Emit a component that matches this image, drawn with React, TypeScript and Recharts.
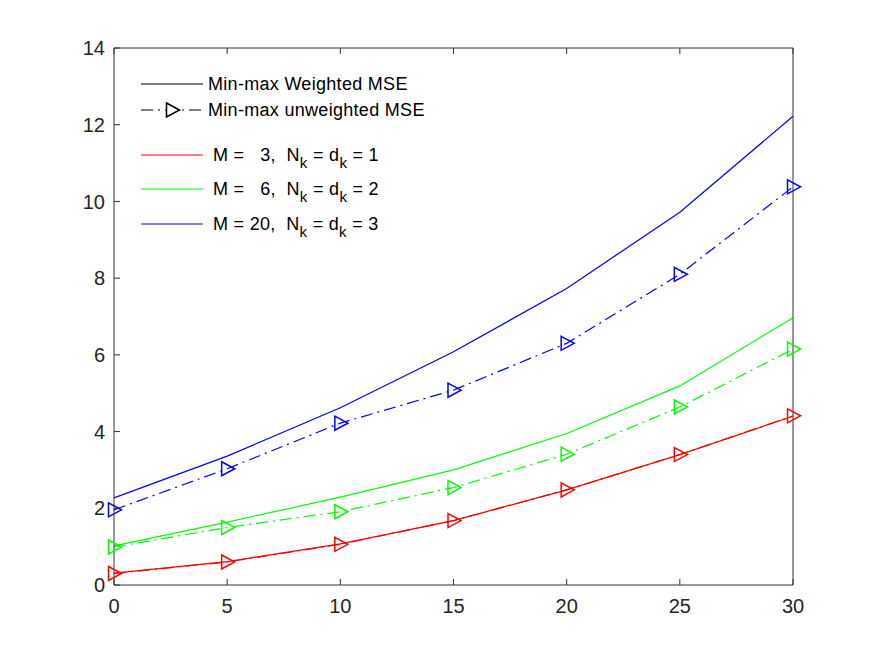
import React from 'react';
import { LineChart, Line, XAxis, YAxis } from 'recharts';

// Horizontal axis values
const xValues = [0, 5, 10, 15, 20, 25, 30];

// Min-max weighted MSE (solid lines)
const redWeighted = [0.31, 0.61, 1.07, 1.68, 2.48, 3.4, 4.4];
const greenWeighted = [1.02, 1.64, 2.29, 3.0, 3.95, 5.19, 6.97];
const blueWeighted = [2.27, 3.36, 4.62, 6.08, 7.73, 9.72, 12.22];

// Min-max unweighted MSE (dash-dot lines with triangle markers)
const redUnweighted = [0.3, 0.6, 1.06, 1.68, 2.48, 3.4, 4.41];
const greenUnweighted = [0.99, 1.5, 1.91, 2.54, 3.41, 4.64, 6.15];
const blueUnweighted = [1.96, 3.03, 4.22, 5.08, 6.3, 8.1, 10.38];

const xTicks = [0, 5, 10, 15, 20, 25, 30];
const yTicks = [0, 2, 4, 6, 8, 10, 12, 14];

const RED = '#ff0000';
const GREEN = '#00ff00';
const BLUE = '#0000ff';
const AXIS = '#333333';
const DASH_DOT = '12 5 2 5';
const FONT = '"Liberation Sans", Arial, Helvetica, sans-serif';

// Legend config
const styleRows = [
  { label: 'Min-max Weighted MSE', dashed: false },
  { label: 'Min-max unweighted MSE', dashed: true },
];
const caseRows = [
  { m: '  3', n: '1', color: RED },
  { m: '  6', n: '2', color: GREEN },
  { m: '20', n: '3', color: BLUE },
];

const data = xValues.map((x, i) => ({
  x,
  redW: redWeighted[i],
  greenW: greenWeighted[i],
  blueW: blueWeighted[i],
  redU: redUnweighted[i],
  greenU: greenUnweighted[i],
  blueU: blueUnweighted[i],
}));

const trianglePoints = (cx: number, cy: number) =>
  `${cx - 5.5},${cy - 7} ${cx + 7.5},${cy} ${cx - 5.5},${cy + 7}`;

const TriangleDot = (props: any) => {
  const { cx, cy, stroke, index } = props;
  if (cx == null || cy == null) return <g key={index} />;
  return (
    <polygon
      key={index}
      points={trianglePoints(cx, cy)}
      fill="none"
      stroke={stroke}
      strokeWidth={1.5}
    />
  );
};

// Unlabelled ticks for the box's top and right edges
const NoLabel = () => <g />;

const Legend = () => {
  const lineX1 = 141;
  const lineX2 = 203;
  const textStyle: React.CSSProperties = { whiteSpace: 'pre' };
  const styleY = [84, 110];
  const caseY = [155, 189, 224];
  return (
    <svg
      width={875}
      height={657}
      style={{ position: 'absolute', left: 0, top: 0, pointerEvents: 'none' }}
      fontFamily={FONT}
    >
      {styleRows.map((r, i) => (
        <g key={r.label}>
          <line
            x1={lineX1}
            x2={lineX2}
            y1={styleY[i]}
            y2={styleY[i]}
            stroke="#000"
            strokeWidth={1.2}
            strokeDasharray={r.dashed ? DASH_DOT : undefined}
          />
          {r.dashed && (
            <polygon
              points={trianglePoints(172, styleY[i])}
              fill="#fff"
              stroke="#000"
              strokeWidth={1.5}
            />
          )}
          <text x={208} y={styleY[i] + 6} fontSize={18} letterSpacing={0.3} fill="#000" style={textStyle}>
            {r.label}
          </text>
        </g>
      ))}
      {caseRows.map((r, i) => (
        <g key={r.n}>
          <line
            x1={lineX1}
            x2={lineX2}
            y1={caseY[i]}
            y2={caseY[i]}
            stroke={r.color}
            strokeWidth={1.2}
          />
          <text x={213} y={caseY[i] + 6} fontSize={18} letterSpacing={0.3} fill="#000" style={textStyle}>
            <tspan>{`M = ${r.m},  N`}</tspan>
            <tspan dy={7} fontSize={15}>k</tspan>
            <tspan dy={-7}>{' = d'}</tspan>
            <tspan dy={7} fontSize={15}>k</tspan>
            <tspan dy={-7}>{` = ${r.n}`}</tspan>
          </text>
        </g>
      ))}
    </svg>
  );
};

export default function App() {
  const tickStyle = { fill: '#262626', fontSize: 20, fontFamily: FONT };
  return (
    <div style={{ position: 'absolute', left: 0, top: 0, width: 875, height: 657, background: '#fff' }}>
      <LineChart
        width={875}
        height={657}
        data={data}
        margin={{ top: 47, right: 81, left: 0, bottom: 0 }}
      >
        <XAxis
          xAxisId="bottom"
          dataKey="x"
          type="number"
          domain={[0, 30]}
          ticks={xTicks}
          height={72}
          stroke={AXIS}
          tickSize={-6}
          tickMargin={20}
          tick={tickStyle}
        />
        <XAxis
          xAxisId="top"
          dataKey="x"
          type="number"
          orientation="top"
          domain={[0, 30]}
          ticks={xTicks}
          height={1}
          stroke={AXIS}
          tickSize={-6}
          tick={NoLabel}
        />
        <YAxis
          yAxisId="left"
          type="number"
          domain={[0, 14]}
          ticks={yTicks}
          width={114}
          stroke={AXIS}
          tickSize={-6}
          tickMargin={15}
          tick={tickStyle}
        />
        <YAxis
          yAxisId="right"
          type="number"
          orientation="right"
          domain={[0, 14]}
          ticks={yTicks}
          width={1}
          stroke={AXIS}
          tickSize={-6}
          tick={NoLabel}
        />
        <Line xAxisId="bottom" yAxisId="left" type="linear" dataKey="redW" stroke={RED} strokeWidth={1.2} dot={false} isAnimationActive={false} />
        <Line xAxisId="bottom" yAxisId="left" type="linear" dataKey="greenW" stroke={GREEN} strokeWidth={1.2} dot={false} isAnimationActive={false} />
        <Line xAxisId="bottom" yAxisId="left" type="linear" dataKey="blueW" stroke={BLUE} strokeWidth={1.2} dot={false} isAnimationActive={false} />
        <Line xAxisId="bottom" yAxisId="left" type="linear" dataKey="redU" stroke={RED} strokeWidth={1.2} strokeDasharray={DASH_DOT} dot={TriangleDot} isAnimationActive={false} />
        <Line xAxisId="bottom" yAxisId="left" type="linear" dataKey="greenU" stroke={GREEN} strokeWidth={1.2} strokeDasharray={DASH_DOT} dot={TriangleDot} isAnimationActive={false} />
        <Line xAxisId="bottom" yAxisId="left" type="linear" dataKey="blueU" stroke={BLUE} strokeWidth={1.2} strokeDasharray={DASH_DOT} dot={TriangleDot} isAnimationActive={false} />
      </LineChart>
      <Legend />
    </div>
  );
}
